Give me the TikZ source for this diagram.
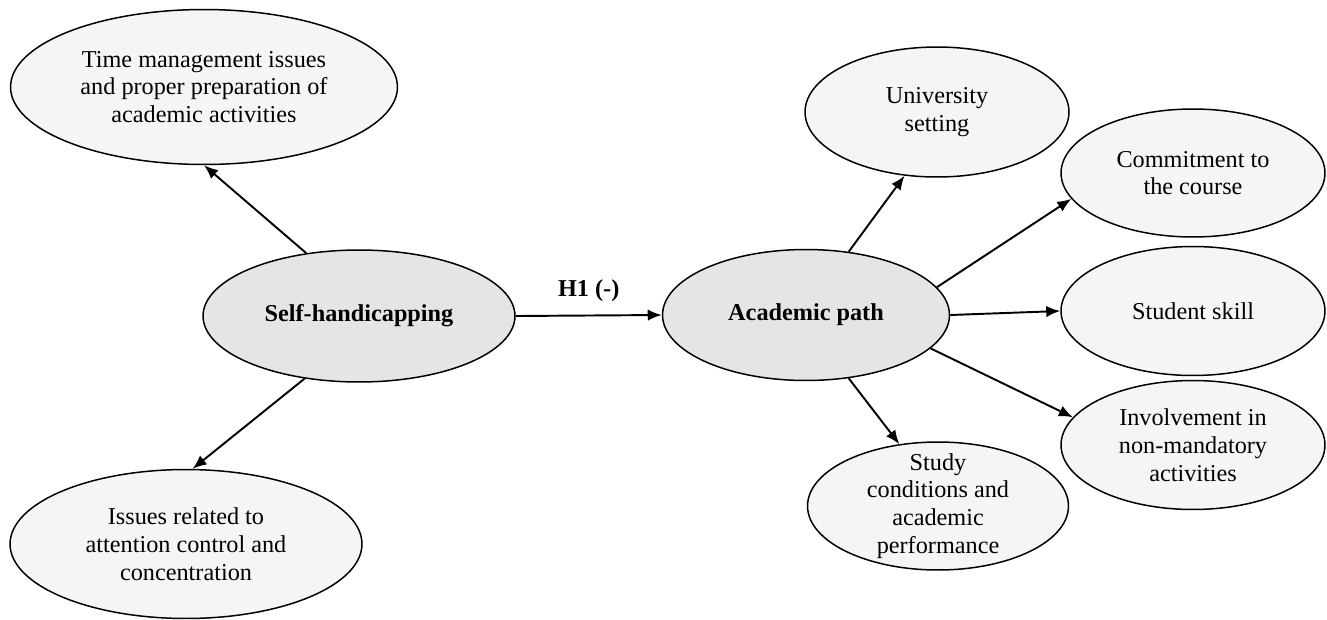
\documentclass[tikz,border=0pt]{standalone}
\usepackage{fontspec}
\setmainfont{Liberation Serif}
\usetikzlibrary{shapes.geometric,arrows.meta}
\begin{document}
\begin{tikzpicture}[line join=round,>={Latex[length=8pt,width=6.5pt]},x=0.02cm,y=-0.02cm,
	outer/.style={ellipse,draw,line width=0.85pt,fill=gray!8,inner xsep=0pt,inner ysep=-6pt,align=center,font=\fontsize{13.8}{15.8}\selectfont},
	inner/.style={outer,fill=gray!20,font=\fontsize{13.8}{15.8}\selectfont\bfseries},
	link/.style={->,line width=1.1pt}]
		\useasboundingbox (0,0) rectangle (1327,619);
		\node[outer,minimum width=7.74cm,minimum height=3.1cm] (time) at (204,87) {Time management issues\\and proper preparation of\\academic activities};
		\node[outer,minimum width=7.04cm,minimum height=2.98cm] (attention) at (186,544) {Issues related to\\attention control and\\concentration};
		\node[inner,minimum width=6.24cm,minimum height=2.64cm] (self) at (359,316) {Self-handicapping};
		\node[inner,minimum width=5.74cm,minimum height=2.62cm] (path) at (806,315) {Academic path};
		\node[outer,minimum width=5.28cm,minimum height=2.6cm] (setting) at (937,112) {University\\setting};
		\node[outer,minimum width=5.28cm,minimum height=2.56cm] (course) at (1193,173) {Commitment to\\the course};
		\node[outer,minimum width=5.28cm,minimum height=2.58cm] (skill) at (1193,311) {Student skill};
		\node[outer,minimum width=5.28cm,minimum height=2.58cm] (involve) at (1193,445) {Involvement in\\non-mandatory\\activities};
		\node[outer,minimum width=5.22cm,minimum height=2.56cm] (study) at (938,506) {Study\\conditions and\\academic\\performance};
		\draw[link] (self.130.5) -- (time.south);
		\draw[link] (self.229.5) -- (attention.85);
		\draw[link] (self.east) -- node[above=4pt,font=\fontsize{13.8}{15.8}\selectfont\bfseries] (h1) {H1 (-)} (path.west);
		\draw[link] (path.56) -- (setting.243);
		\draw[link] (path.12.7) -- (course.192);
		\draw[link] (path.east) -- (skill.west);
		\draw[link] (path.345) -- (involve.167);
		\draw[link] (path.304) -- (study.122);
	\end{tikzpicture}
\end{document}
